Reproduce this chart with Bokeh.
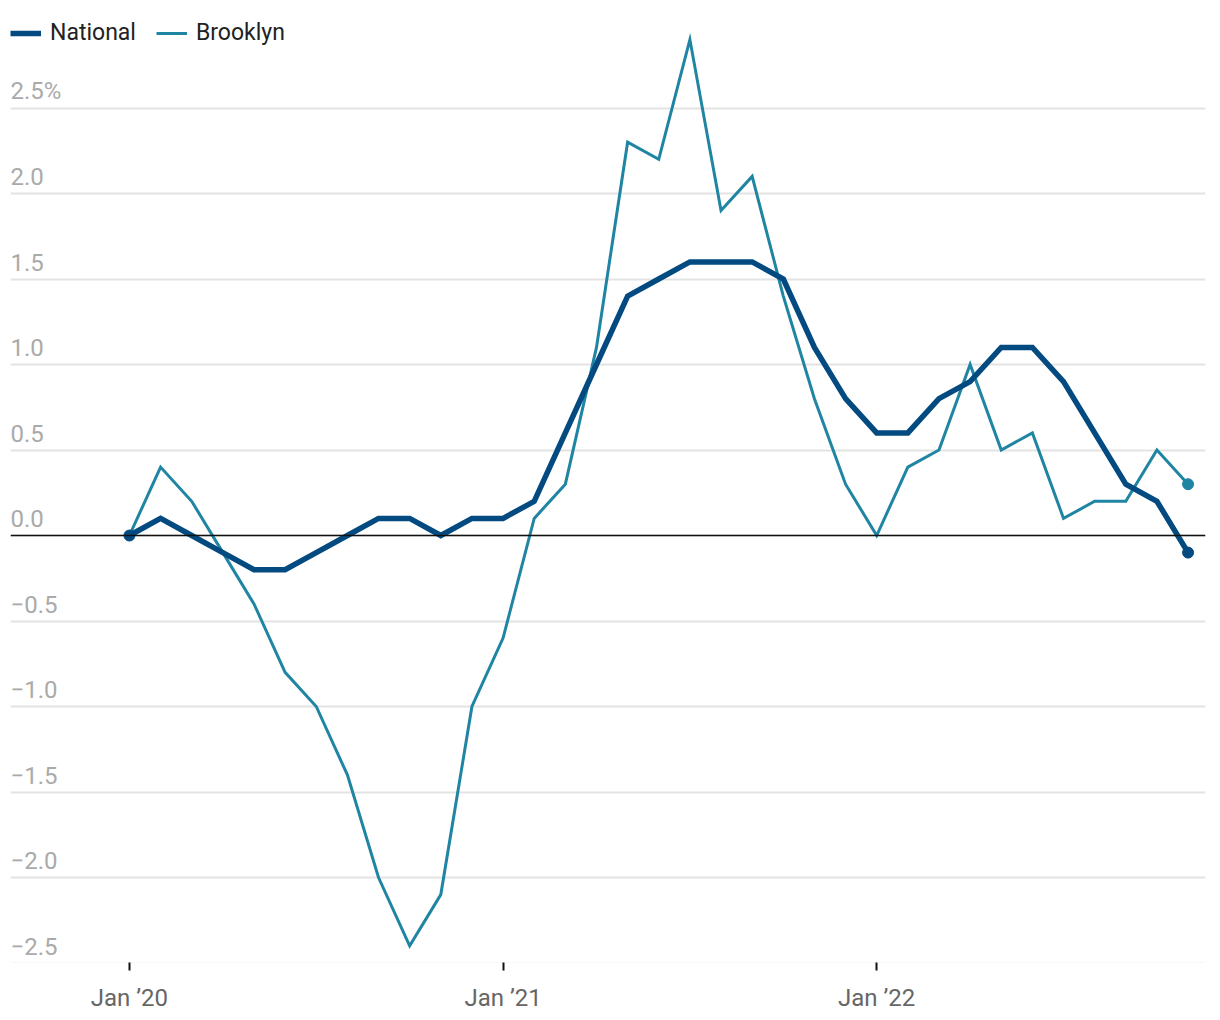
from bokeh.plotting import figure
from bokeh.models import (Range1d, FixedTicker, Span, Legend, LegendItem, ColumnDataSource)
from bokeh.embed import file_html
from bokeh.resources import INLINE
from bokeh.core.properties import value

months = list(range(35))  # Jan 2020 .. Nov 2022
national = [0.0, 0.1, 0.0, -0.1, -0.2, -0.2, -0.1, 0.0, 0.1, 0.1, 0.0, 0.1,
            0.1, 0.2, 0.6, 1.0, 1.4, 1.5, 1.6, 1.6, 1.6, 1.5, 1.1, 0.8,
            0.6, 0.6, 0.8, 0.9, 1.1, 1.1, 0.9, 0.6, 0.3, 0.2, -0.1]
brooklyn = [0.0, 0.4, 0.2, -0.1, -0.4, -0.8, -1.0, -1.4, -2.0, -2.4, -2.1, -1.0,
            -0.6, 0.1, 0.3, 1.1, 2.3, 2.2, 2.9, 1.9, 2.1, 1.4, 0.8, 0.3,
            0.0, 0.4, 0.5, 1.0, 0.5, 0.6, 0.1, 0.2, 0.2, 0.5, 0.3]
x_ticks = [0, 12, 24]
x_tick_labels = ["Jan \u201920", "Jan \u201921", "Jan \u201922"]
y_ticks = [-2.5, -2.0, -1.5, -1.0, -0.5, 0.0, 0.5, 1.0, 1.5, 2.0, 2.5]
y_tick_labels = ["\u22122.5", "\u22122.0", "\u22121.5", "\u22121.0", "\u22120.5", "0.0",
                 "0.5", "1.0", "1.5", "2.0", "2.5%"]

NAT = "#034a80"
BRK = "#1f85a3"
FONT = "Roboto"

x0, x1 = -3.82, 34.56
frame_h = 962
scale = 171.0
y_top = 535 / scale
y_bot = y_top - frame_h / scale
p = figure(width=1220, height=1020, output_backend="svg", toolbar_location=None,
           x_range=Range1d(x0, x1), y_range=Range1d(y_bot, y_top),
           min_border_left=10, min_border_right=15, min_border_top=0, min_border_bottom=1020 - frame_h)
p.outline_line_color = None
p.background_fill_color = "white"
p.border_fill_color = "white"

p.yaxis.visible = False
p.xgrid.visible = False
p.ygrid.ticker = FixedTicker(ticks=y_ticks)
p.ygrid.grid_line_color = "#e3e3e3"
p.ygrid.grid_line_width = 2

p.xaxis.ticker = FixedTicker(ticks=x_ticks)
p.xaxis.major_label_overrides = {t: l for t, l in zip(x_ticks, x_tick_labels)}
p.xaxis.axis_line_color = None
p.xaxis.major_tick_line_color = "#111111"
p.xaxis.major_tick_line_width = 2
p.xaxis.major_tick_out = 8
p.xaxis.major_tick_in = 0
p.xaxis.minor_tick_line_color = None
p.xaxis.major_label_text_font = FONT
p.xaxis.major_label_text_font_size = "24px"
p.xaxis.major_label_text_color = "#666666"
p.xaxis.major_label_standoff = 13

p.add_layout(Span(location=0, dimension="width", line_color="#111111", line_width=1.5))

lbl = ColumnDataSource(dict(x=[x0] * len(y_ticks), y=y_ticks, t=y_tick_labels))
p.text(x="x", y="y", text="t", source=lbl, text_font=value(FONT), text_font_size="24px",
       text_color="#aaaaaa", text_baseline="alphabetic", text_align="left", y_offset=-17)

rb = p.line(months, brooklyn, line_color=BRK, line_width=3, line_join="miter")
rn = p.line(months, national, line_color=NAT, line_width=5.5, line_join="miter")
p.scatter([months[-1]], [brooklyn[-1]], size=11, color=BRK)
p.scatter([months[0], months[-1]], [national[0], national[-1]], size=11, color=NAT)

legend = Legend(items=[LegendItem(label="National", renderers=[rn]),
                       LegendItem(label="Brooklyn", renderers=[rb])],
                orientation="horizontal",
                label_text_font=FONT, label_text_font_size="23px", label_text_color="#222222",
                glyph_width=31, glyph_height=24, spacing=20, padding=0, margin=0,
                label_standoff=9, border_line_color=None, background_fill_alpha=0,
                location=(0, frame_h - 46))
p.add_layout(legend)

open("out.html", "w").write(file_html(p, INLINE))
